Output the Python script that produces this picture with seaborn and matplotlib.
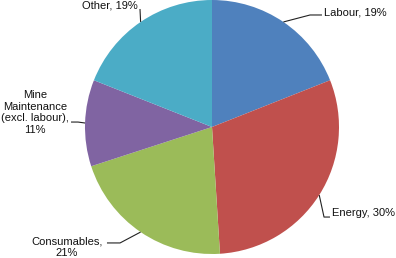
import numpy as np
import matplotlib
matplotlib.use("Agg")
import matplotlib.pyplot as plt
import seaborn as sns

sns.set_theme(style="white")
plt.rcParams['font.family'] = ['Liberation Sans', 'DejaVu Sans']

categories = ["Labour", "Energy", "Consumables", "Mine\nMaintenance\n(excl. labour)", "Other"]
values = [19, 30, 21, 11, 19]
colors = ["#4F81BD", "#C0504D", "#9BBB59", "#8064A2", "#4BACC6"]

# label layout (data units, pie radius = 1)
label_pos = [(0.882, 0.898), (0.945, -0.677), (-1.142, -0.950), (-1.394, 0.114), (-0.803, 0.953)]
label_ha = ["left", "left", "center", "center", "center"]
elbows = [[(0.772, 0.882), (0.866, 0.882)],
          [(0.882, -0.709), (0.929, -0.709)],
          [(-0.724, -0.913), (-0.827, -0.913)],
          [(-1.055, 0.039), (-1.110, 0.039)],
          [(-0.567, 0.929)]]

fig = plt.figure(figsize=(3.96, 2.58), dpi=100)
ax = fig.add_axes([0, 0, 1, 1])
wedges, _ = ax.pie(values, colors=colors, startangle=90, counterclock=False,
                   radius=1.0, center=(0, 0), wedgeprops=dict(linewidth=0))
ax.set_aspect('auto')
ax.set_xlim(-212 / 127, 184 / 127)
ax.set_ylim(-131 / 127, 127 / 127)
ax.axis('off')

total = sum(values)
for w, cat, v, pos, ha, elb in zip(wedges, categories, values, label_pos, label_ha, elbows):
    mid = np.deg2rad((w.theta1 + w.theta2) / 2)
    start = (np.cos(mid), np.sin(mid))
    pts = [start] + elb
    xs, ys = zip(*pts)
    ax.plot(xs, ys, color="#222222", lw=0.8, solid_capstyle='butt')
    pct = round(100 * v / total)
    if cat.startswith("Consumables") or cat.startswith("Mine"):
        txt = f"{cat},\n{pct}%"
    else:
        txt = f"{cat}, {pct}%"
    ax.text(pos[0], pos[1], txt, ha=ha, va="center", multialignment="center",
            fontsize=8, color="#111111", linespacing=1.2)

fig.savefig("out.png", dpi=100)
